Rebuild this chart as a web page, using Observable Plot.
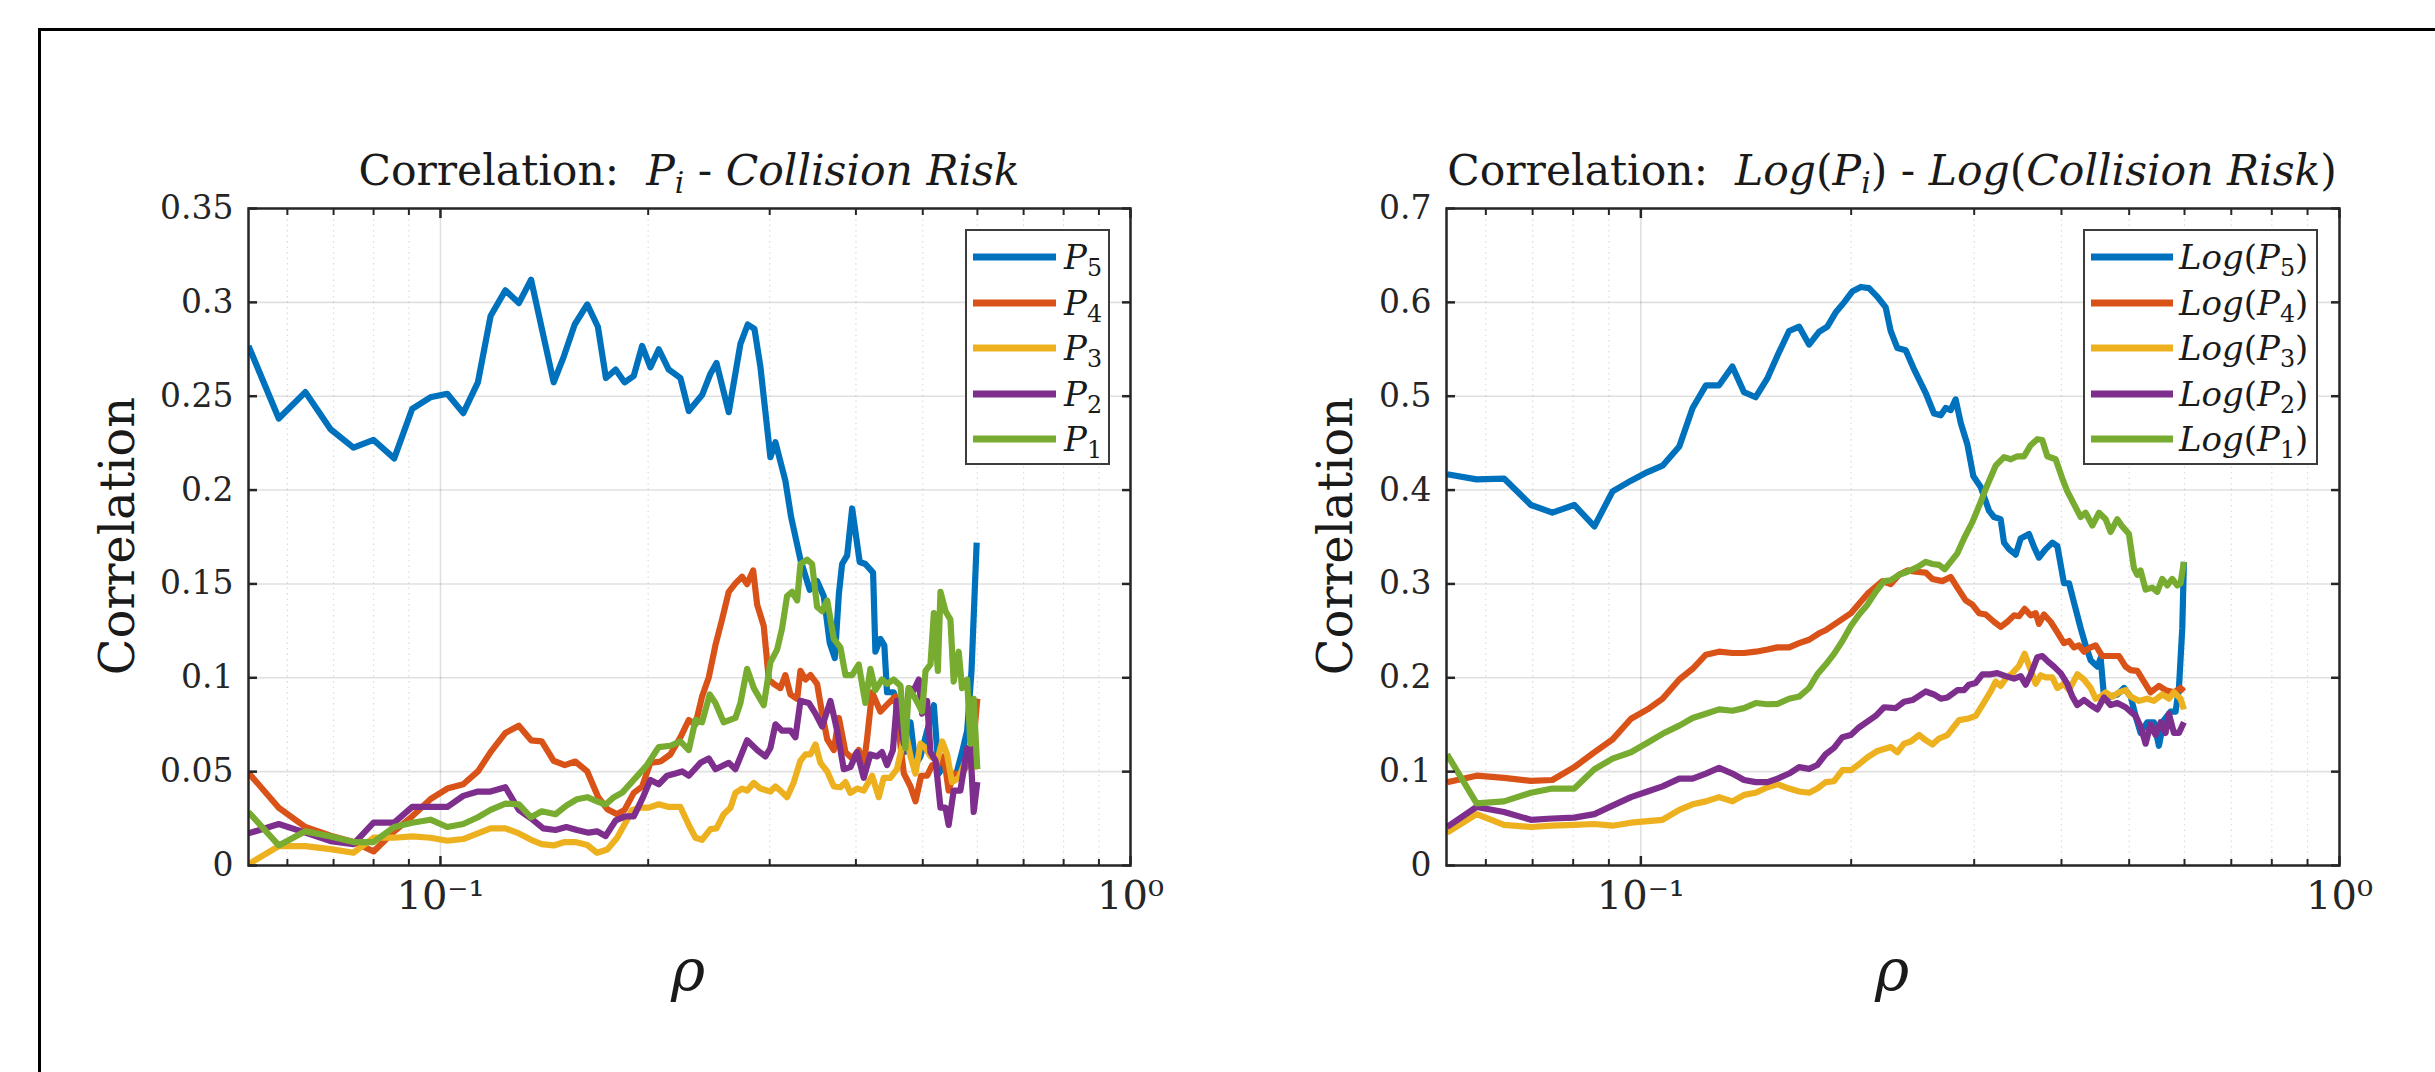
<!DOCTYPE html>
<html><head><meta charset="utf-8">
<script src="https://cdn.jsdelivr.net/npm/d3@7"></script>
<script src="https://cdn.jsdelivr.net/npm/@observablehq/plot@0.6"></script>
<style>
html,body{margin:0;padding:0;background:#fff;}
#fig{position:relative;width:2435px;height:1072px;overflow:hidden;font-family:"DejaVu Serif",serif;color:#1a1a1a;}
.abs{position:absolute;}
.frame{left:38px;top:28px;width:2600px;height:1200px;border:3px solid #000;box-sizing:border-box;pointer-events:none;}
.title{font-size:42.5px;white-space:nowrap;transform:translateX(-50%);line-height:1;}
.ylab{font-size:48px;white-space:nowrap;transform:translate(-50%,-50%) rotate(-90deg);line-height:1;}
.xlab{font-size:58px;font-style:italic;transform:translate(-50%,-50%);line-height:1;}
.legend{border:2px solid #3c3c3c;background:#fff;box-sizing:border-box;}
.sw{position:absolute;height:7px;transform:translateY(-50%);}
.ll{position:absolute;font-size:34px;white-space:nowrap;transform:translateY(-50%);line-height:1;}
sub{font-size:70%;vertical-align:-0.28em;line-height:0;}
.up{font-style:normal;}
</style></head>
<body>
<div id="fig">
  <div id="plotL" class="abs" style="left:0;top:0;width:1230px;height:1072px"></div>
  <div id="plotR" class="abs" style="left:1200px;top:0;width:1235px;height:1072px"></div>
  <div class="abs title" style="left:689px;top:150px">Correlation:&nbsp; <i>P<sub>i</sub></i> - <i>Collision Risk</i></div>
  <div class="abs title" style="left:1892px;top:150px">Correlation:&nbsp; <i>Log</i>(<i>P<sub>i</sub></i>) - <i>Log</i>(<i>Collision Risk</i>)</div>
  <div class="abs ylab" style="left:117px;top:536px">Correlation</div>
  <div class="abs ylab" style="left:1335px;top:536px">Correlation</div>
  <div class="abs xlab" style="left:688px;top:970px">ρ</div>
  <div class="abs xlab" style="left:1892px;top:970px">ρ</div>
  <div id="legL" class="abs legend" style="left:965px;top:229px;width:145px;height:236px"></div>
  <div id="legR" class="abs legend" style="left:2083px;top:229px;width:235px;height:236px"></div>
  <div class="abs frame"></div>
</div>
<script>
// ---------- data: [rho, correlation] ----------
const P5 = [[0.0527,0.2768],[0.0583,0.2381],[0.0637,0.2522],[0.0693,0.2324],[0.0748,0.2226],[0.0800,0.2267],[0.0857,0.2169],[0.0910,0.2433],[0.0967,0.2494],[0.1023,0.2513],[0.1079,0.2410],[0.1133,0.2574],[0.1182,0.2927],[0.1242,0.3064],[0.1299,0.2996],[0.1353,0.3121],[0.1459,0.2574],[0.1509,0.2711],[0.1565,0.2882],[0.1632,0.2989],[0.1691,0.2870],[0.1737,0.2597],[0.1794,0.2642],[0.1848,0.2574],[0.1906,0.2608],[0.1960,0.2768],[0.2015,0.2654],[0.2072,0.2750],[0.2142,0.2642],[0.2227,0.2597],[0.2290,0.2421],[0.2394,0.2506],[0.2462,0.2620],[0.2512,0.2677],[0.2617,0.2415],[0.2721,0.2779],[0.2788,0.2882],[0.2851,0.2859],[0.2909,0.2654],[0.3007,0.2175],[0.3058,0.2255],[0.3161,0.2050],[0.3222,0.1857],[0.3324,0.1629],[0.3429,0.1469],[0.3514,0.1515],[0.3593,0.1435],[0.3666,0.1185],[0.3728,0.1105],[0.3779,0.1447],[0.3820,0.1606],[0.3885,0.1652],[0.3950,0.1902],[0.4051,0.1617],[0.4128,0.1606],[0.4236,0.1560],[0.4269,0.1139],[0.4340,0.1207],[0.4398,0.1173],[0.4438,0.0923],[0.4537,0.0923],[0.4642,0.0809],[0.4704,0.0604],[0.4799,0.0763],[0.4880,0.0535],[0.4961,0.0581],[0.5188,0.0854],[0.5275,0.0490],[0.5363,0.0535],[0.5451,0.0490],[0.5573,0.0467],[0.5700,0.0604],[0.5798,0.0718],[0.5883,0.1037],[0.5985,0.1720]];
const P4 = [[0.0527,0.0494],[0.0583,0.0308],[0.0637,0.0205],[0.0693,0.0159],[0.0748,0.0125],[0.0800,0.0075],[0.0857,0.0182],[0.0910,0.0262],[0.0967,0.0353],[0.1023,0.0410],[0.1079,0.0433],[0.1133,0.0501],[0.1182,0.0604],[0.1242,0.0706],[0.1299,0.0745],[0.1353,0.0667],[0.1402,0.0661],[0.1459,0.0558],[0.1514,0.0535],[0.1568,0.0554],[0.1632,0.0501],[0.1693,0.0364],[0.1745,0.0300],[0.1803,0.0273],[0.1848,0.0296],[0.1906,0.0387],[0.1960,0.0421],[0.2015,0.0547],[0.2084,0.0554],[0.2154,0.0592],[0.2227,0.0683],[0.2290,0.0775],[0.2342,0.0752],[0.2394,0.0900],[0.2448,0.1002],[0.2503,0.1173],[0.2559,0.1310],[0.2617,0.1458],[0.2676,0.1503],[0.2736,0.1538],[0.2782,0.1499],[0.2839,0.1572],[0.2877,0.1390],[0.2941,0.1276],[0.2991,0.0991],[0.3041,0.0968],[0.3109,0.0945],[0.3161,0.1014],[0.3215,0.0911],[0.3288,0.0888],[0.3324,0.1037],[0.3381,0.0991],[0.3437,0.1014],[0.3514,0.0968],[0.3574,0.0809],[0.3635,0.0672],[0.3716,0.0615],[0.3779,0.0786],[0.3863,0.0604],[0.3950,0.0570],[0.4038,0.0615],[0.4105,0.0535],[0.4151,0.0672],[0.4222,0.0923],[0.4340,0.0820],[0.4463,0.0866],[0.4563,0.0900],[0.4642,0.0638],[0.4694,0.0490],[0.4799,0.0421],[0.4880,0.0342],[0.4973,0.0478],[0.5073,0.0478],[0.5160,0.0535],[0.5247,0.0535],[0.5363,0.0581],[0.5451,0.0399],[0.5543,0.0490],[0.5669,0.0478],[0.5798,0.0535],[0.5897,0.0581],[0.5998,0.0888]];
const P3 = [[0.0527,0.0007],[0.0583,0.0103],[0.0637,0.0103],[0.0693,0.0087],[0.0748,0.0068],[0.0800,0.0148],[0.0857,0.0148],[0.0910,0.0155],[0.0967,0.0148],[0.1023,0.0132],[0.1079,0.0141],[0.1133,0.0171],[0.1182,0.0198],[0.1242,0.0198],[0.1299,0.0171],[0.1353,0.0137],[0.1402,0.0114],[0.1459,0.0107],[0.1514,0.0125],[0.1568,0.0125],[0.1632,0.0109],[0.1686,0.0068],[0.1745,0.0085],[0.1803,0.0148],[0.1854,0.0228],[0.1896,0.0296],[0.1949,0.0308],[0.2004,0.0308],[0.2072,0.0326],[0.2142,0.0312],[0.2227,0.0312],[0.2290,0.0216],[0.2342,0.0148],[0.2394,0.0137],[0.2462,0.0194],[0.2512,0.0198],[0.2573,0.0273],[0.2632,0.0308],[0.2676,0.0387],[0.2736,0.0410],[0.2782,0.0399],[0.2845,0.0440],[0.2909,0.0410],[0.3007,0.0394],[0.3058,0.0421],[0.3109,0.0399],[0.3179,0.0364],[0.3251,0.0444],[0.3324,0.0558],[0.3381,0.0592],[0.3437,0.0592],[0.3495,0.0645],[0.3553,0.0547],[0.3635,0.0501],[0.3716,0.0421],[0.3798,0.0417],[0.3863,0.0444],[0.3927,0.0387],[0.4016,0.0410],[0.4105,0.0399],[0.4222,0.0478],[0.4317,0.0364],[0.4389,0.0467],[0.4487,0.0467],[0.4587,0.0513],[0.4668,0.0638],[0.4718,0.0718],[0.4799,0.0581],[0.4880,0.0490],[0.4961,0.0649],[0.5046,0.0626],[0.5130,0.0581],[0.5247,0.0558],[0.5335,0.0661],[0.5423,0.0592],[0.5512,0.0444],[0.5637,0.0467],[0.5765,0.0558],[0.5897,0.0592],[0.5998,0.0513]];
const P2 = [[0.0527,0.0171],[0.0583,0.0221],[0.0637,0.0175],[0.0693,0.0130],[0.0748,0.0114],[0.0800,0.0228],[0.0857,0.0228],[0.0910,0.0312],[0.0967,0.0312],[0.1023,0.0312],[0.1079,0.0371],[0.1133,0.0394],[0.1182,0.0394],[0.1242,0.0417],[0.1299,0.0296],[0.1353,0.0251],[0.1409,0.0198],[0.1468,0.0189],[0.1522,0.0205],[0.1577,0.0189],[0.1639,0.0175],[0.1686,0.0182],[0.1735,0.0157],[0.1794,0.0240],[0.1854,0.0262],[0.1906,0.0262],[0.1960,0.0353],[0.2015,0.0456],[0.2072,0.0433],[0.2130,0.0478],[0.2190,0.0490],[0.2240,0.0501],[0.2290,0.0478],[0.2381,0.0547],[0.2448,0.0570],[0.2503,0.0513],[0.2617,0.0547],[0.2676,0.0513],[0.2782,0.0667],[0.2877,0.0615],[0.2958,0.0581],[0.3007,0.0626],[0.3058,0.0752],[0.3127,0.0718],[0.3215,0.0718],[0.3269,0.0683],[0.3324,0.0877],[0.3418,0.0866],[0.3495,0.0809],[0.3574,0.0740],[0.3674,0.0877],[0.3758,0.0718],[0.3841,0.0513],[0.3927,0.0524],[0.4016,0.0604],[0.4105,0.0467],[0.4198,0.0592],[0.4293,0.0581],[0.4364,0.0604],[0.4438,0.0535],[0.4526,0.0615],[0.4587,0.0877],[0.4694,0.0649],[0.4772,0.0945],[0.4853,0.0934],[0.4934,0.0991],[0.4989,0.0809],[0.5073,0.0877],[0.5130,0.0604],[0.5218,0.0558],[0.5304,0.0308],[0.5393,0.0308],[0.5451,0.0216],[0.5543,0.0399],[0.5669,0.0399],[0.5798,0.0626],[0.5861,0.0626],[0.5926,0.0285],[0.5998,0.0444]];
const P1 = [[0.0527,0.0285],[0.0583,0.0107],[0.0637,0.0182],[0.0693,0.0155],[0.0748,0.0125],[0.0800,0.0125],[0.0857,0.0205],[0.0910,0.0228],[0.0967,0.0244],[0.1023,0.0205],[0.1079,0.0221],[0.1133,0.0257],[0.1182,0.0296],[0.1242,0.0330],[0.1299,0.0326],[0.1353,0.0257],[0.1402,0.0289],[0.1468,0.0273],[0.1522,0.0319],[0.1577,0.0353],[0.1632,0.0364],[0.1686,0.0342],[0.1735,0.0325],[0.1784,0.0364],[0.1833,0.0387],[0.1906,0.0456],[0.1992,0.0535],[0.2072,0.0631],[0.2154,0.0638],[0.2227,0.0661],[0.2290,0.0615],[0.2342,0.0775],[0.2394,0.0763],[0.2456,0.0911],[0.2503,0.0866],[0.2573,0.0763],[0.2676,0.0786],[0.2721,0.0866],[0.2782,0.1048],[0.2845,0.0945],[0.2941,0.0854],[0.3007,0.1082],[0.3075,0.1150],[0.3127,0.1264],[0.3179,0.1435],[0.3233,0.1458],[0.3288,0.1412],[0.3324,0.1606],[0.3400,0.1629],[0.3456,0.1606],[0.3514,0.1378],[0.3574,0.1355],[0.3635,0.1412],[0.3716,0.1207],[0.3798,0.1162],[0.3863,0.1014],[0.3950,0.1014],[0.4038,0.1071],[0.4128,0.0866],[0.4198,0.1048],[0.4269,0.0934],[0.4364,0.0991],[0.4438,0.0968],[0.4537,0.0991],[0.4642,0.0957],[0.4718,0.0626],[0.4772,0.0945],[0.4880,0.0888],[0.4989,0.0820],[0.5046,0.1037],[0.5130,0.1071],[0.5188,0.1344],[0.5258,0.1037],[0.5304,0.1458],[0.5393,0.1355],[0.5483,0.1310],[0.5543,0.0980],[0.5637,0.1139],[0.5700,0.0945],[0.5798,0.0991],[0.5861,0.0649],[0.5926,0.0888],[0.5998,0.0513]];

const LP5 = [[0.0528,0.4169],[0.0582,0.4114],[0.0637,0.4123],[0.0696,0.3841],[0.0747,0.3759],[0.0803,0.3841],[0.0858,0.3613],[0.0911,0.3986],[0.0968,0.4100],[0.1022,0.4192],[0.1074,0.4260],[0.1135,0.4465],[0.1186,0.4875],[0.1239,0.5116],[0.1294,0.5116],[0.1352,0.5317],[0.1405,0.5043],[0.1460,0.4989],[0.1518,0.5194],[0.1569,0.5435],[0.1630,0.5695],[0.1685,0.5741],[0.1741,0.5550],[0.1799,0.5685],[0.1849,0.5741],[0.1900,0.5891],[0.1954,0.6000],[0.2009,0.6119],[0.2065,0.6164],[0.2121,0.6151],[0.2181,0.6059],[0.2241,0.5946],[0.2278,0.5695],[0.2329,0.5513],[0.2394,0.5490],[0.2461,0.5285],[0.2557,0.5034],[0.2628,0.4816],[0.2687,0.4797],[0.2731,0.4875],[0.2776,0.4852],[0.2822,0.4966],[0.2870,0.4715],[0.2933,0.4488],[0.2992,0.4146],[0.3065,0.4032],[0.3150,0.3781],[0.3202,0.3713],[0.3273,0.3690],[0.3310,0.3440],[0.3365,0.3371],[0.3440,0.3312],[0.3497,0.3485],[0.3594,0.3531],[0.3654,0.3394],[0.3714,0.3280],[0.3797,0.3371],[0.3881,0.3440],[0.3946,0.3403],[0.4033,0.3007],[0.4101,0.3007],[0.4168,0.2802],[0.4261,0.2529],[0.4331,0.2346],[0.4404,0.2187],[0.4502,0.2119],[0.4551,0.2210],[0.4602,0.1800],[0.4703,0.1800],[0.4808,0.1822],[0.4915,0.1891],[0.5024,0.1800],[0.5106,0.1595],[0.5192,0.1412],[0.5307,0.1526],[0.5424,0.1526],[0.5515,0.1276],[0.5606,0.1549],[0.5731,0.1640],[0.5826,0.1640],[0.5891,0.1891],[0.5956,0.2529],[0.5988,0.3235]];
const LP4 = [[0.0528,0.0888],[0.0582,0.0957],[0.0637,0.0934],[0.0696,0.0902],[0.0747,0.0911],[0.0803,0.1048],[0.0858,0.1207],[0.0911,0.1344],[0.0968,0.1563],[0.1022,0.1663],[0.1074,0.1777],[0.1135,0.1982],[0.1186,0.2096],[0.1239,0.2246],[0.1294,0.2278],[0.1352,0.2264],[0.1405,0.2264],[0.1460,0.2278],[0.1518,0.2301],[0.1569,0.2324],[0.1630,0.2324],[0.1685,0.2369],[0.1741,0.2405],[0.1799,0.2474],[0.1839,0.2506],[0.1998,0.2688],[0.2110,0.2893],[0.2217,0.3030],[0.2278,0.2998],[0.2342,0.3098],[0.2408,0.3144],[0.2474,0.3130],[0.2557,0.3121],[0.2614,0.3053],[0.2701,0.3030],[0.2776,0.3075],[0.2838,0.2961],[0.2917,0.2825],[0.2982,0.2779],[0.3048,0.2688],[0.3116,0.2674],[0.3202,0.2597],[0.3273,0.2542],[0.3347,0.2597],[0.3421,0.2665],[0.3478,0.2656],[0.3543,0.2734],[0.3614,0.2665],[0.3674,0.2688],[0.3714,0.2574],[0.3776,0.2674],[0.3860,0.2597],[0.3946,0.2483],[0.4033,0.2369],[0.4101,0.2392],[0.4168,0.2324],[0.4237,0.2346],[0.4308,0.2278],[0.4404,0.2324],[0.4477,0.2346],[0.4576,0.2232],[0.4677,0.2232],[0.4835,0.2232],[0.4941,0.2119],[0.5024,0.2082],[0.5136,0.2073],[0.5249,0.1959],[0.5365,0.1845],[0.5515,0.1914],[0.5637,0.1868],[0.5794,0.1845],[0.5923,0.1891],[0.5988,0.1854]];
const LP3 = [[0.0528,0.0351],[0.0582,0.0547],[0.0637,0.0433],[0.0696,0.0410],[0.0747,0.0424],[0.0803,0.0433],[0.0858,0.0442],[0.0911,0.0424],[0.0968,0.0456],[0.1074,0.0487],[0.1135,0.0592],[0.1186,0.0652],[0.1239,0.0683],[0.1294,0.0729],[0.1352,0.0683],[0.1405,0.0752],[0.1460,0.0775],[0.1518,0.0834],[0.1569,0.0866],[0.1630,0.0820],[0.1685,0.0788],[0.1741,0.0775],[0.1789,0.0820],[0.1839,0.0888],[0.1890,0.0898],[0.1943,0.1016],[0.1998,0.1016],[0.2053,0.1080],[0.2110,0.1153],[0.2181,0.1221],[0.2278,0.1262],[0.2329,0.1207],[0.2381,0.1298],[0.2434,0.1321],[0.2502,0.1390],[0.2557,0.1335],[0.2614,0.1289],[0.2672,0.1353],[0.2746,0.1390],[0.2807,0.1481],[0.2854,0.1549],[0.2933,0.1563],[0.3015,0.1595],[0.3082,0.1709],[0.3168,0.1854],[0.3220,0.1959],[0.3273,0.1914],[0.3328,0.1991],[0.3403,0.2050],[0.3478,0.2128],[0.3543,0.2255],[0.3614,0.2082],[0.3674,0.1936],[0.3735,0.2027],[0.3797,0.2005],[0.3881,0.2005],[0.3946,0.1891],[0.4033,0.1936],[0.4101,0.1868],[0.4214,0.2037],[0.4308,0.1982],[0.4404,0.1891],[0.4477,0.1777],[0.4551,0.1800],[0.4627,0.1845],[0.4729,0.1800],[0.4835,0.1845],[0.4941,0.1868],[0.5024,0.1800],[0.5164,0.1754],[0.5307,0.1777],[0.5424,0.1754],[0.5575,0.1822],[0.5700,0.1777],[0.5794,0.1845],[0.5923,0.1777],[0.5988,0.1663]];
const LP2 = [[0.0528,0.0410],[0.0582,0.0624],[0.0637,0.0570],[0.0696,0.0487],[0.0747,0.0501],[0.0803,0.0510],[0.0858,0.0547],[0.0911,0.0638],[0.0968,0.0729],[0.1022,0.0788],[0.1074,0.0843],[0.1135,0.0925],[0.1186,0.0925],[0.1239,0.0980],[0.1294,0.1039],[0.1352,0.0980],[0.1405,0.0911],[0.1460,0.0888],[0.1518,0.0888],[0.1569,0.0925],[0.1630,0.0980],[0.1685,0.1048],[0.1741,0.1030],[0.1789,0.1071],[0.1839,0.1185],[0.1890,0.1253],[0.1943,0.1367],[0.1998,0.1390],[0.2053,0.1472],[0.2169,0.1595],[0.2229,0.1686],[0.2316,0.1677],[0.2381,0.1745],[0.2448,0.1763],[0.2557,0.1854],[0.2628,0.1822],[0.2687,0.1777],[0.2746,0.1790],[0.2838,0.1868],[0.2901,0.1868],[0.2949,0.1927],[0.3015,0.1945],[0.3082,0.2037],[0.3168,0.2037],[0.3237,0.2050],[0.3328,0.2018],[0.3421,0.1991],[0.3497,0.2018],[0.3555,0.1927],[0.3614,0.2037],[0.3694,0.2219],[0.3755,0.2232],[0.3839,0.2164],[0.3903,0.2119],[0.3989,0.2050],[0.4078,0.1936],[0.4146,0.1800],[0.4214,0.1709],[0.4308,0.1763],[0.4404,0.1709],[0.4502,0.1663],[0.4602,0.1790],[0.4703,0.1709],[0.4808,0.1731],[0.4941,0.1686],[0.5024,0.1640],[0.5106,0.1595],[0.5192,0.1481],[0.5278,0.1298],[0.5365,0.1503],[0.5454,0.1390],[0.5545,0.1526],[0.5637,0.1412],[0.5700,0.1617],[0.5794,0.1412],[0.5891,0.1412],[0.5988,0.1526]];
const LP1 = [[0.0528,0.1185],[0.0582,0.0661],[0.0637,0.0683],[0.0696,0.0775],[0.0747,0.0820],[0.0803,0.0820],[0.0858,0.1025],[0.0911,0.1139],[0.0968,0.1207],[0.1022,0.1308],[0.1074,0.1403],[0.1135,0.1490],[0.1186,0.1572],[0.1239,0.1617],[0.1294,0.1663],[0.1352,0.1649],[0.1405,0.1677],[0.1460,0.1731],[0.1518,0.1718],[0.1569,0.1722],[0.1630,0.1777],[0.1685,0.1800],[0.1741,0.1891],[0.1789,0.2037],[0.1839,0.2141],[0.1890,0.2255],[0.1943,0.2392],[0.1998,0.2551],[0.2053,0.2674],[0.2110,0.2779],[0.2169,0.2916],[0.2229,0.3030],[0.2278,0.3039],[0.2342,0.3098],[0.2408,0.3130],[0.2488,0.3180],[0.2557,0.3235],[0.2614,0.3212],[0.2672,0.3203],[0.2722,0.3157],[0.2776,0.3235],[0.2838,0.3326],[0.2901,0.3485],[0.2982,0.3658],[0.3065,0.3873],[0.3133,0.4055],[0.3220,0.4260],[0.3310,0.4351],[0.3384,0.4328],[0.3459,0.4360],[0.3535,0.4360],[0.3614,0.4478],[0.3694,0.4542],[0.3755,0.4533],[0.3818,0.4360],[0.3924,0.4328],[0.4011,0.4123],[0.4078,0.3986],[0.4168,0.3850],[0.4261,0.3713],[0.4331,0.3759],[0.4428,0.3622],[0.4527,0.3759],[0.4627,0.3690],[0.4703,0.3554],[0.4808,0.3690],[0.4888,0.3613],[0.4996,0.3531],[0.5079,0.3166],[0.5136,0.3098],[0.5192,0.3144],[0.5278,0.2939],[0.5395,0.2961],[0.5485,0.2916],[0.5575,0.3053],[0.5668,0.2984],[0.5762,0.3053],[0.5858,0.2984],[0.5923,0.3007],[0.5988,0.3235]];

// ---------- series, labels, ticks ----------
const seriesColors = ["#0072BD", "#D95319", "#EDB120", "#7E2F8E", "#77AC30"];
const leftSeries = [P5, P4, P3, P2, P1];
const rightSeries = [LP5, LP4, LP3, LP2, LP1];
const legendIndex = ["5", "4", "3", "2", "1"];
const yTicksLeft = [0, 0.05, 0.1, 0.15, 0.2, 0.25, 0.3, 0.35];
const yTicksRight = [0, 0.1, 0.2, 0.3, 0.4, 0.5, 0.6, 0.7];
const xMajor = [0.1, 1];
const xMajorLabels = ["10\u207B\u00B9", "10\u2070"];
const xMinor = [0.06, 0.07, 0.08, 0.09, 0.2, 0.3, 0.4, 0.5, 0.6, 0.7, 0.8, 0.9];
const xDomain = [0.0527, 1];

const ink = "#262626";

function makePlot(series, yTicks, yMax, W, mL, mR) {
  const marks = [
    Plot.gridY(yTicks, {stroke: "#000", strokeOpacity: 0.12, strokeWidth: 1.6}),
    Plot.gridX(xMajor, {stroke: "#000", strokeOpacity: 0.12, strokeWidth: 1.6}),
    Plot.gridX(xMinor, {stroke: "#000", strokeOpacity: 0.14, strokeWidth: 1.2, strokeDasharray: "1.5,4"}),
  ];
  series.forEach((s, i) => {
    marks.push(Plot.line(s.map(([rho, v]) => ({rho, v})), {
      x: "rho", y: "v", stroke: seriesColors[i], strokeWidth: 6.2,
      strokeLinejoin: "round", strokeLinecap: "butt", clip: true
    }));
  });
  const fmtY = d => String(d);
  marks.push(
    Plot.frame({stroke: ink, strokeWidth: 2.5}),
    Plot.axisY({anchor: "left", ticks: yTicks, tickSize: -9, tickPadding: 24, tickFormat: fmtY, label: null, strokeWidth: 2.5, fontSize: 33}),
    Plot.axisY({anchor: "right", ticks: yTicks, tickSize: -9, tickFormat: () => "", label: null, strokeWidth: 2.5}),
    Plot.axisX({anchor: "bottom", ticks: xMajor, tickSize: -9, tickPadding: 24, tickFormat: d => xMajorLabels[xMajor.indexOf(d)], label: null, strokeWidth: 2.5, fontSize: 40}),
    Plot.axisX({anchor: "top", ticks: xMajor, tickSize: -9, tickFormat: () => "", label: null, strokeWidth: 2.5}),
    Plot.axisX({anchor: "bottom", ticks: xMinor, tickSize: -6, tickFormat: () => "", label: null, strokeWidth: 2}),
    Plot.axisX({anchor: "top", ticks: xMinor, tickSize: -6, tickFormat: () => "", label: null, strokeWidth: 2})
  );
  return Plot.plot({
    width: W, height: 1072,
    marginLeft: mL, marginRight: mR, marginTop: 208, marginBottom: 207,
    x: {type: "log", domain: xDomain},
    y: {domain: [0, yMax]},
    style: {fontFamily: "DejaVu Serif", fontSize: "33px", color: ink, background: "none", overflow: "visible"},
    marks
  });
}

document.getElementById("plotL").appendChild(makePlot(leftSeries, yTicksLeft, 0.35, 1230, 248, 100));
document.getElementById("plotR").appendChild(makePlot(rightSeries, yTicksRight, 0.7, 1235, 246, 96));

function makeLegend(el, labelFn, swLeft, swW, lblLeft) {
  const rowY = [26, 72, 117, 163, 208];
  legendIndex.forEach((n, i) => {
    const sw = document.createElement("div");
    sw.className = "sw";
    sw.style.cssText = `left:${swLeft}px;top:${rowY[i]}px;width:${swW}px;background:${seriesColors[i]}`;
    el.appendChild(sw);
    const lb = document.createElement("div");
    lb.className = "ll";
    lb.style.cssText = `left:${lblLeft}px;top:${rowY[i]}px`;
    lb.innerHTML = labelFn(n);
    el.appendChild(lb);
  });
}
makeLegend(document.getElementById("legL"), n => `<i>P</i><sub class="up">${n}</sub>`, 6, 83, 97);
makeLegend(document.getElementById("legR"), n => `<i>Log</i>(<i>P</i><sub class="up">${n}</sub>)`, 6, 82, 94);
</script>
</body></html>
